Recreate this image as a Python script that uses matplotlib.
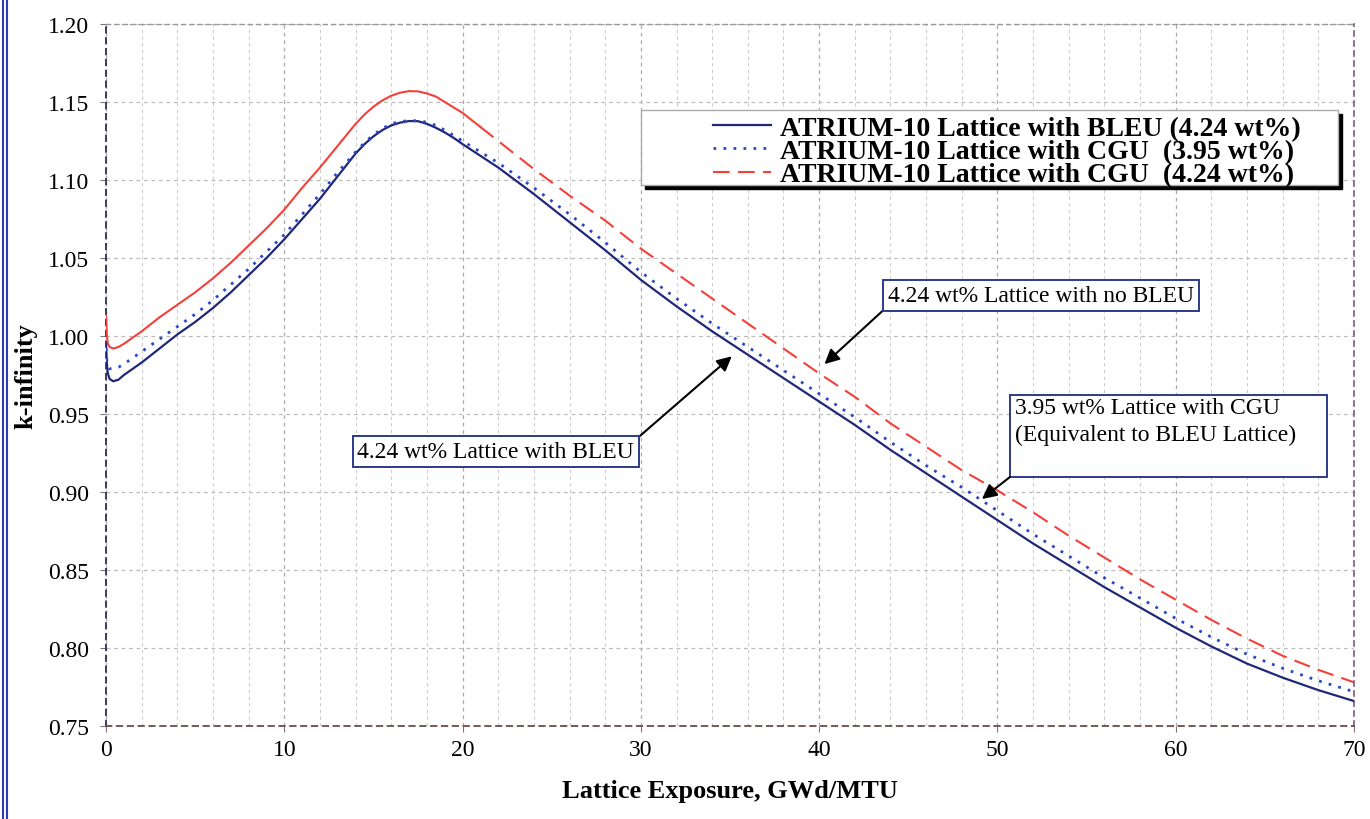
import numpy as np
import matplotlib
matplotlib.use("Agg")
import matplotlib.pyplot as plt
from matplotlib.lines import Line2D
from matplotlib.patches import Rectangle
from matplotlib.transforms import offset_copy


# exposure points (GWd/MTU)
EXPOSURE = [0, 0.05, 0.1, 0.2, 0.4, 0.7, 1,
            2, 3, 4, 5, 6, 7, 8, 9, 10, 11, 12, 13, 14,
            14.5, 15, 15.5, 16, 16.5, 17, 17.5, 18, 18.5, 19, 19.5, 20,
            21, 22,
            24, 26, 28, 30, 32, 34, 36, 38, 40, 42, 44, 46, 48, 50,
            52, 54, 56, 58, 60, 62, 64, 66, 68, 70]

# ATRIUM-10 lattice with BLEU (4.24 wt%)
K_BLEU_424 = [0.995, 0.982, 0.976, 0.9725, 0.971, 0.972, 0.975,
              0.983, 0.992, 1.001, 1.009, 1.018, 1.028, 1.039, 1.050, 1.062, 1.075, 1.088, 1.1025, 1.117,
              1.123, 1.128, 1.132, 1.135, 1.1368, 1.1378, 1.1377, 1.136, 1.1335, 1.1305, 1.127, 1.123,
              1.1155, 1.108,
              1.091, 1.073, 1.055, 1.036, 1.019, 1.003, 0.988, 0.973, 0.958, 0.943, 0.927, 0.912, 0.897, 0.882,
              0.867, 0.853, 0.839, 0.826, 0.813, 0.801, 0.790, 0.781, 0.773, 0.766]

# ATRIUM-10 lattice with CGU (3.95 wt%)
K_CGU_395 = [0.992, 0.984, 0.981, 0.979, 0.979, 0.980, 0.982,
             0.990, 0.998, 1.006, 1.014, 1.023, 1.033, 1.043, 1.054, 1.065, 1.078, 1.091, 1.105, 1.118,
             1.124, 1.129, 1.133, 1.136, 1.1375, 1.138, 1.138, 1.137, 1.135, 1.132, 1.1285, 1.125,
             1.118, 1.111,
             1.095, 1.078, 1.060, 1.041, 1.024, 1.008, 0.993, 0.978, 0.963, 0.948, 0.932, 0.917, 0.903, 0.888,
             0.873, 0.859, 0.845, 0.832, 0.819, 0.807, 0.796, 0.787, 0.779, 0.772]

# ATRIUM-10 lattice with CGU (4.24 wt%)
K_CGU_424 = [1.013, 1.000, 0.995, 0.993, 0.992, 0.993, 0.995,
             1.003, 1.012, 1.020, 1.028, 1.037, 1.047, 1.058, 1.069, 1.081, 1.095, 1.108, 1.122, 1.136,
             1.142, 1.147, 1.151, 1.154, 1.156, 1.157, 1.1568, 1.1555, 1.1535, 1.150, 1.1465, 1.143,
             1.134, 1.125,
             1.107, 1.090, 1.074, 1.056, 1.040, 1.024, 1.008, 0.992, 0.976, 0.961, 0.944, 0.929, 0.914, 0.901,
             0.887, 0.872, 0.858, 0.844, 0.831, 0.818, 0.806, 0.795, 0.786, 0.778]

LABELS = [
    "ATRIUM-10 Lattice with BLEU (4.24 wt%)",
    "ATRIUM-10 Lattice with CGU  (3.95 wt%)",
    "ATRIUM-10 Lattice with CGU  (4.24 wt%)",
]

NAVY = "#1f2878"
BLUE = "#2c46c8"
RED = "#f5403a"
BOX_EDGE = "#2c3a8c"


def main():
    plt.rcParams["font.family"] = ["Liberation Serif", "DejaVu Serif"]

    x = np.array(EXPOSURE)
    k_bleu = np.array(K_BLEU_424)
    k_cgu395 = np.array(K_CGU_395)
    k_cgu424 = np.array(K_CGU_424)

    fig = plt.figure(figsize=(13.7, 8.2), dpi=100)
    ax = fig.add_axes([0.0774, 0.1134, 0.9109, 0.8561])

    ax.plot(x, k_bleu, color=NAVY, lw=1.6, label=LABELS[0], zorder=4)
    ax.plot(x, k_cgu395, color=BLUE, lw=2.0, linestyle=(0, (1, 2.6)),
            label=LABELS[1], zorder=4)
    # dense points early on make the red curve look solid
    early = x <= 21
    late = x >= 21
    ax.plot(x[early], k_cgu424[early], color=RED, lw=1.5, zorder=3)
    ax.plot(x[late], k_cgu424[late], color=RED, lw=1.5,
            linestyle=(0, (8, 4)), label=LABELS[2], zorder=3)

    ax.set_xlim(0, 70)
    ax.set_ylim(0.75, 1.20)
    ax.set_xticks(np.arange(0, 71, 10))
    ax.set_xticks(np.arange(0, 71, 2), minor=True)
    ax.set_yticks(np.arange(0.75, 1.201, 0.05))
    ax.set_yticklabels([f"{v:.2f}" for v in np.arange(0.75, 1.201, 0.05)])
    ax.tick_params(axis="both", which="major", labelsize=17, length=4,
                   color="#777777")
    ax.tick_params(axis="x", which="major", pad=5)
    ax.tick_params(axis="y", which="major", pad=8)
    ax.tick_params(axis="x", which="minor", length=0)

    ax.grid(True, which="minor", axis="x", color="#cccccc", lw=0.8,
            linestyle=(0, (3, 3)))
    ax.grid(True, which="major", axis="x", color="#aaaaaa", lw=0.9,
            linestyle=(0, (3, 3)))
    ax.grid(True, which="major", axis="y", color="#bbbbbb", lw=0.9,
            linestyle=(0, (3, 3)))
    ax.set_axisbelow(True)

    ax.spines["left"].set(color="#2e2e55", lw=1.3, linestyle=(0, (3, 3)))
    ax.spines["bottom"].set(color="#6e4a4a", lw=1.3, linestyle=(0, (3, 3)))
    ax.spines["top"].set(color="#999999", lw=1.0, linestyle=(0, (3, 3)))
    ax.spines["right"].set(color="#7a5a80", lw=1.2, linestyle=(0, (3, 3)))

    ax.set_xlabel("Lattice Exposure, GWd/MTU", fontsize=19, fontweight="bold",
                  labelpad=14)
    ax.set_ylabel("k-infinity", fontsize=19, fontweight="bold", labelpad=8)

    # legend box with a black drop shadow
    bx, by, bw, bh = 0.4287, 0.7707, 0.5585, 0.1068
    shadow_tr = offset_copy(ax.transAxes, fig=fig, x=4, y=-4, units="dots")
    ax.add_patch(Rectangle((bx, by), bw, bh, transform=shadow_tr,
                           facecolor="black", edgecolor="black", zorder=5))
    ax.add_patch(Rectangle((bx, by), bw, bh, transform=ax.transAxes,
                           facecolor="white", edgecolor="#aaaaaa", lw=1,
                           zorder=6))
    leg = ax.legend(loc="upper left", bbox_to_anchor=(0.4864, 0.8697),
                    frameon=False, borderpad=0, borderaxespad=0,
                    handlelength=2.1, handletextpad=0.3, labelspacing=-0.08,
                    prop={"size": 20, "weight": "bold"})
    leg.set_zorder(7)

    box = dict(boxstyle="square,pad=0.2", facecolor="white",
               edgecolor=BOX_EDGE, lw=1.4)
    arrow = dict(arrowstyle="-|>", color="black", lw=1.5, mutation_scale=22,
                 shrinkA=0, shrinkB=0)

    ax.annotate("4.24 wt% Lattice with no BLEU", xy=(40.3, 0.982),
                xytext=(43.86, 1.026), ha="left", va="center", fontsize=17,
                bbox=box, arrowprops=dict(arrow, relpos=(0, 0)), zorder=8)
    ax.annotate("4.24 wt% Lattice with BLEU", xy=(35.1, 0.987),
                xytext=(14.1, 0.926), ha="left", va="center", fontsize=17,
                bbox=box, arrowprops=dict(arrow, relpos=(1, 1)), zorder=8)

    # CGU 3.95 box is taller than its text
    ax.add_patch(Rectangle((50.7, 0.9096), 17.78, 0.0526, facecolor="white",
                           edgecolor=BOX_EDGE, lw=1.4, zorder=8))
    ax.text(50.98, 0.9606, "3.95 wt% Lattice with CGU\n(Equivalent to BLEU Lattice)",
            ha="left", va="top", fontsize=17, linespacing=1.3, zorder=9)
    ax.annotate("", xy=(49.13, 0.8955), xytext=(50.7, 0.9096),
                arrowprops=arrow, zorder=9)

    # page border on the left edge
    for xp in (3, 7):
        fig.add_artist(Line2D([xp / 1370, xp / 1370], [0, 1],
                              transform=fig.transFigure, color="#2a3ab0",
                              lw=1.5))

    fig.savefig("out.png", dpi=100)
    plt.close(fig)


if __name__ == "__main__":
    main()
